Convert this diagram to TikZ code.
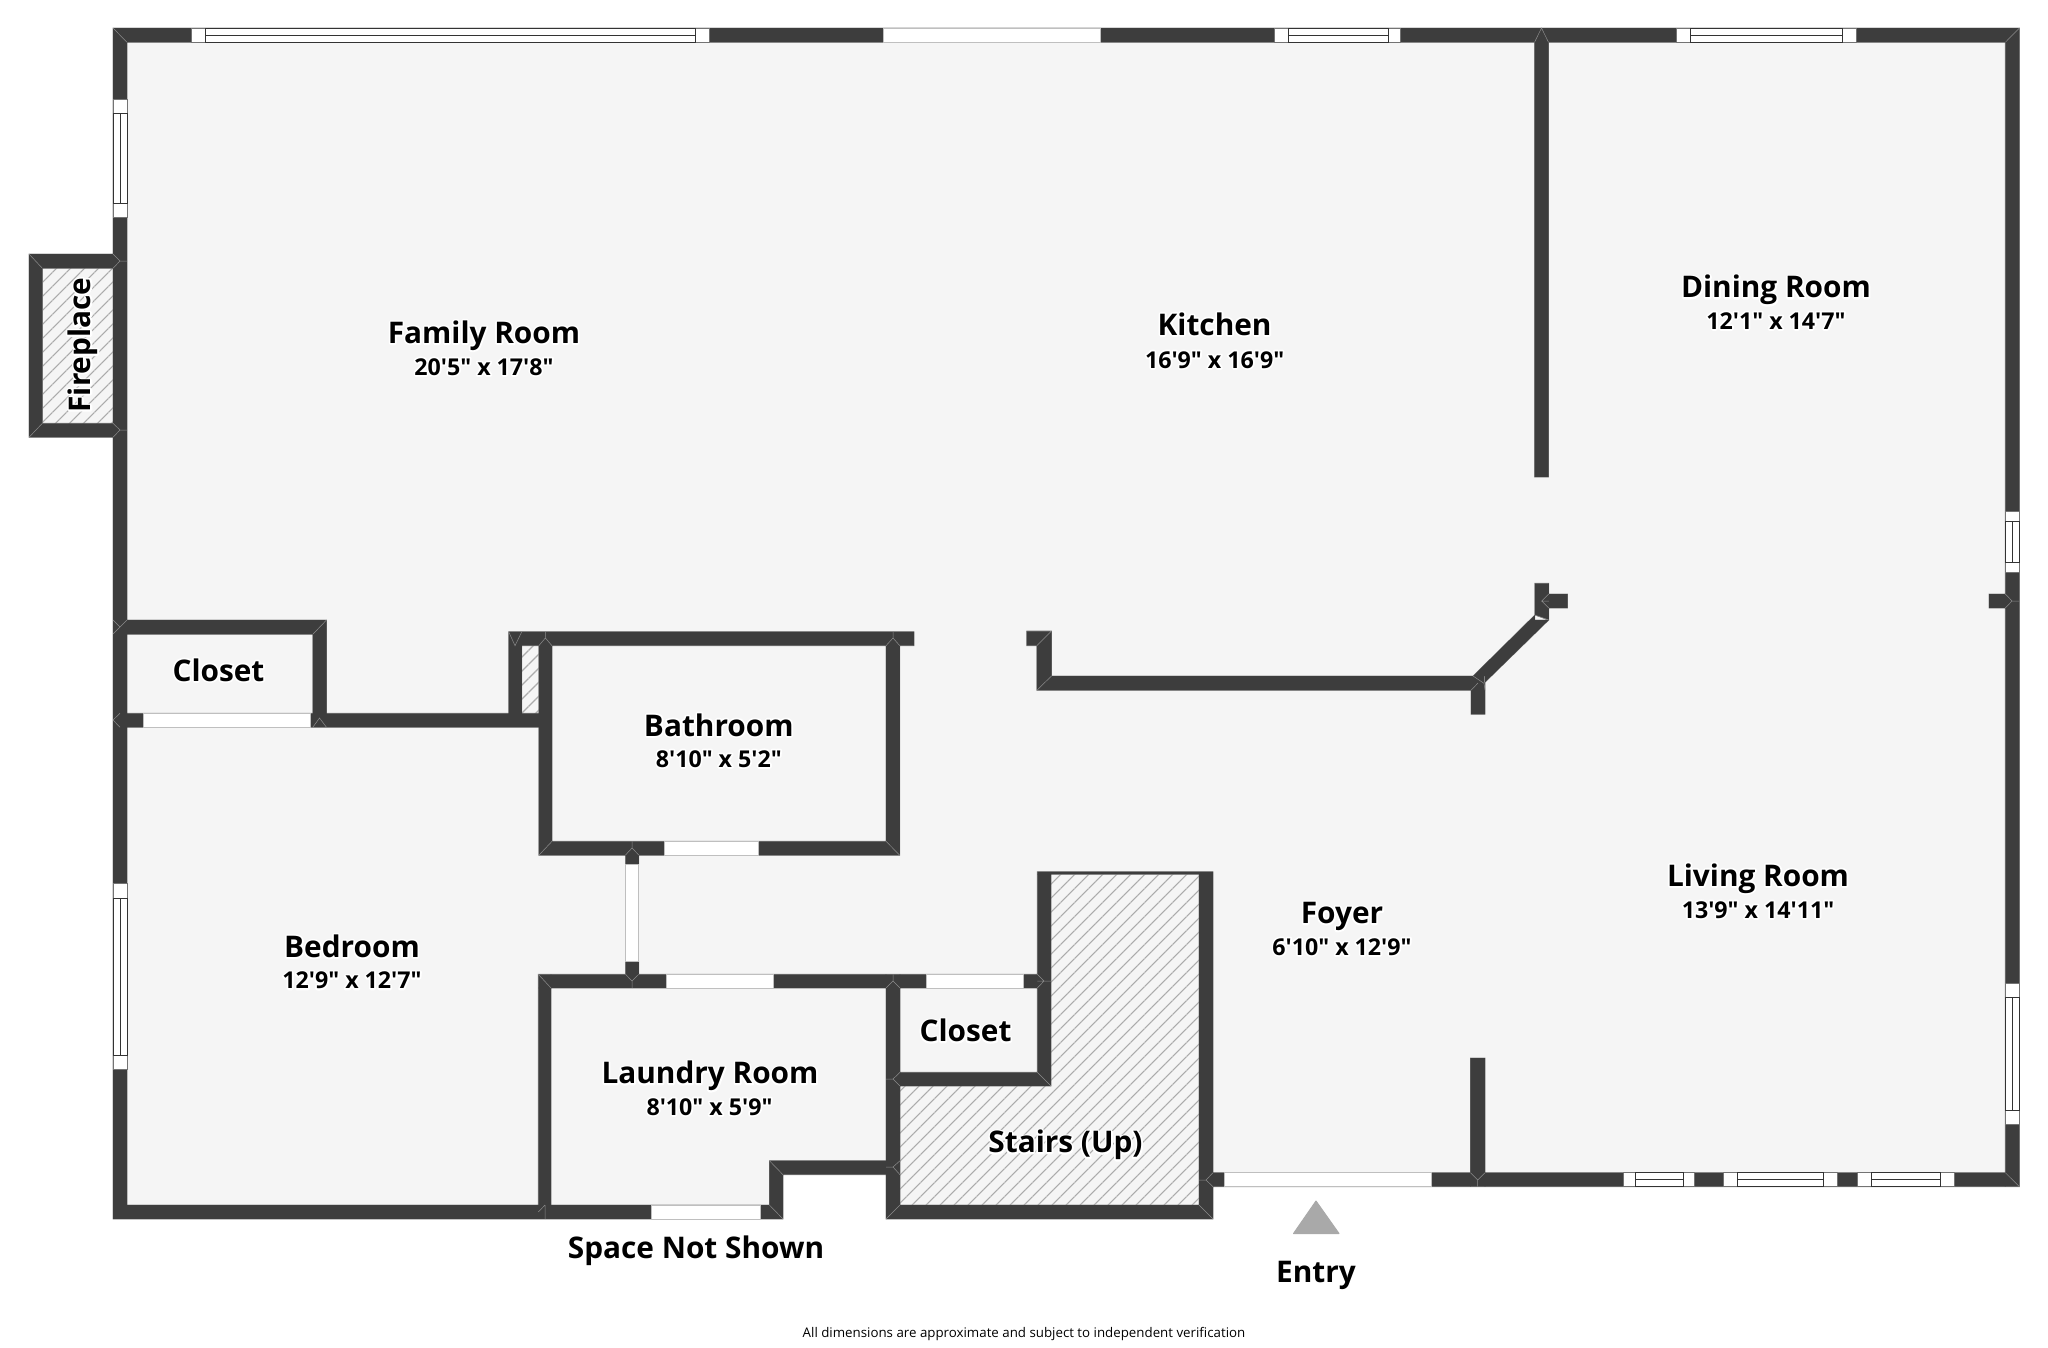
\documentclass[tikz,border=0pt]{standalone}
\usepackage{fontspec}
\defaultfontfeatures[\rmfamily]{}
\setmainfont{Open Sans}
\usepackage{tikz}
\usetikzlibrary{patterns.meta}

\definecolor{wallgrey}{HTML}{3D3D3D}
\definecolor{walledge}{HTML}{8C8C8C}
\definecolor{floorgrey}{HTML}{F5F5F5}
\definecolor{hatchgrey}{HTML}{ABABAB}
\definecolor{entrygrey}{HTML}{A9A9A9}

\newcommand{\halotext}[1]{\leavevmode\rlap{\special{pdf:code q 2 Tr 1 j 3.5 w 1 1 1 RG 1 1 1 rg}#1\special{pdf:code Q}}#1}

\tikzset{
  hatched/.style={fill=floorgrey,postaction={pattern={Lines[angle=45,distance=9.9pt,line width=1.1pt]},pattern color=hatchgrey}},
  mitre/.style={draw=walledge,line width=.5pt},
  opening/.style={draw=black!25,line width=1pt,fill=white},
  frame/.style={draw=black!55,line width=1pt,fill=white},
  pane/.style={draw=black!80,line width=1pt},
  roomname/.style={anchor=base,inner sep=0pt,font=\fontsize{29.8}{33}\selectfont\bfseries},
  roomsize/.style={anchor=base,inner sep=0pt,font=\fontsize{23.2}{26}\selectfont\bfseries},
  note/.style={anchor=base,inner sep=0pt,font=\fontsize{13.3}{16}\selectfont}
}

% x0, pane start, pane end, x1, top of the wall
\newcommand{\hwindow}[5]{
  \draw[frame] (#1,#5) rectangle (#4,#5+14);
  \draw[pane] (#2,#5) rectangle (#3,#5+14);
  \draw[pane] (#2,#5+7) -- (#3,#5+7);
}
% y0, pane start, pane end, y1, left of the wall
\newcommand{\vwindow}[5]{
  \draw[frame] (#5,#1) rectangle (#5+14,#4);
  \draw[pane] (#5,#2) rectangle (#5+14,#3);
  \draw[pane] (#5+7,#2) -- (#5+7,#3);
}

\newcommand{\wallpath}{
  (113,28) rectangle (2019.4,42.3)
  (113,28) rectangle (127,1219)
  (2005.3,28) rectangle (2019.4,1186.7)
  (1212,1172.7) rectangle (2019.4,1186.7)
  (113,1205) rectangle (783,1219)
  % fireplace
  (29,254) rectangle (113,268.3)
  (29,423.3) rectangle (113,437.3)
  (29,254) rectangle (42.4,437.3)
  % closet and bathroom
  (113,620) rectangle (326.5,634.3)
  (312.8,620) rectangle (326.5,727.3)
  (113,713.3) rectangle (552,727.3)
  (508.7,631.7) rectangle (521.8,727.3)
  (538.8,631.7) rectangle (552,855.3)
  (508.7,631.7) rectangle (914,645.7)
  (886,631.7) rectangle (899.8,855.3)
  (538.8,841.3) rectangle (899.8,855.3)
  (625.5,855) rectangle (638.8,864)
  (625.5,961.7) rectangle (638.8,974.3)
  % laundry, closet, stairs
  (538.3,974.3) rectangle (1051,988)
  (538.3,974.3) rectangle (551,1219)
  (886,974.3) rectangle (900,1219)
  (886,1072.3) rectangle (1051,1086)
  (1037.3,871.7) rectangle (1051,1086)
  (1037.3,871.7) rectangle (1213,874.3)
  (1199,871.7) rectangle (1213,1219)
  (886,1205) rectangle (1213,1219)
  (769.4,1160.7) rectangle (900,1174.7)
  (769.4,1160.7) rectangle (783,1219)
  % kitchen side
  (1534.5,28) rectangle (1548.5,477)
  (1534.8,583.3) rectangle (1548.8,620)
  (1534.8,594) rectangle (1567.5,608)
  (1989,594) rectangle (2019.4,608)
  (1036.8,676) rectangle (1484,690.3)
  (1036.8,631) rectangle (1051.5,690.3)
  (1026.7,631) rectangle (1051.5,645.7)
  (1471,676) rectangle (1485,714.3)
  (1534.8,615) -- (1548.8,620) -- (1484,683.3) -- (1473,676) -- cycle
  (1470.4,1058) rectangle (1485,1186.7)
}

\begin{document}
\begin{tikzpicture}[x=1pt,y=-1pt]
\useasboundingbox (0,0) rectangle (2048,1347);

\fill[floorgrey] (113,28) -- (2019,28) -- (2019,1186) -- (1213,1186) -- (1213,1219) -- (886,1219) -- (886,1174) -- (783,1174) -- (783,1219) -- (113,1219) -- cycle;

% hatched areas
\fill[hatched] (42.4,268.3) rectangle (113,423.3);
\fill[hatched] (521.8,645.7) rectangle (538.8,713.3);
\fill[hatched] (1051,874) -- (1199,874) -- (1199,1205) -- (900,1205) -- (900,1086) -- (1051,1086) -- cycle;

% walls
\draw[draw=walledge,line width=.7pt] \wallpath;
\fill[wallgrey] \wallpath;

% joints
\draw[mitre] (113,28) -- (127,42.3) (2019.4,28) -- (2005.3,42.3) (2019.4,1186.7) -- (2005.3,1172.7);
\draw[mitre] (29,254) -- (42.4,268.3) (29,437.3) -- (42.4,423.3);
\draw[mitre] (113,254) -- (120,261) -- (113,268.3) (120,261) -- (127,261);
\draw[mitre] (113,423.3) -- (120,430) -- (113,437.3) (120,430) -- (127,430);
\draw[mitre] (113,620) -- (120,627) -- (127,620) (120,627) -- (113,634) (326.5,620) -- (312.8,634.3);
\draw[mitre] (113,720) -- (120,713.3) (120,727.3) -- (113,720);
\draw[mitre] (312.8,727.3) -- (319.5,718) -- (326.5,727.3) (508.7,631.7) -- (515,645.7) -- (521.8,631.7);
\draw[mitre] (538.8,645.7) -- (545.4,638) -- (552,645.7) (545.4,638) -- (545.4,631.7);
\draw[mitre] (886,645.7) -- (893,638) -- (899.8,645.7) (893,638) -- (893,631.7);
\draw[mitre] (538.8,855.3) -- (552,841.3) (899.8,855.3) -- (886,841.3);
\draw[mitre] (625.5,855) -- (632,848) -- (638.8,855) (632,848) -- (632,841.3);
\draw[mitre] (538.3,974.3) -- (551,988) (625.5,974.3) -- (632,981) -- (638.8,974.3) (632,981) -- (632,988);
\draw[mitre] (886,988) -- (893,981) -- (900,988) (893,981) -- (893,974.3);
\draw[mitre] (1037.3,981) -- (1051,981) (1037.3,974.3) -- (1044,981) -- (1037.3,988);
\draw[mitre] (1051,1086) -- (1037.3,1072.3) (886,1079) -- (893,1079) -- (900,1072.3) (893,1079) -- (900,1086);
\draw[mitre] (769.4,1160.7) -- (783,1174.7) (886,1167) -- (893,1167) -- (900,1160.7) (893,1167) -- (900,1174.7);
\draw[mitre] (538.3,1212) -- (545,1205) (545,1219) -- (545,1205) (783,1219) -- (769.4,1205);
\draw[mitre] (886,1219) -- (900,1205) (1213,1219) -- (1199,1205);
\draw[mitre] (1534.5,42.3) -- (1541.5,28) -- (1548.5,42.3);
\draw[mitre] (1471,690.3) -- (1478,683) (1473,676) -- (1484,683.3) -- (1485,690.3);
\draw[mitre] (1534.8,615) -- (1548.8,620) (1548.8,601) -- (1541.8,601) -- (1548.8,594) (1541.8,601) -- (1548.8,608);
\draw[mitre] (2005.3,594) -- (2012,601) -- (2005.3,608) (2012,601) -- (2019.4,601);
\draw[mitre] (1470.4,1172.7) -- (1477.7,1180) -- (1485,1172.7) (1477.7,1180) -- (1477.7,1186.7);
\draw[mitre] (1199,1180) -- (1206,1180) -- (1213,1172.7) (1206,1180) -- (1213,1186.7);
\draw[mitre] (1026.7,631) -- (1051.5,631) (1036.8,645.7) -- (1051.5,631) (1036.8,690.3) -- (1051.5,676);

% openings
\draw[opening] (883,28.3) rectangle (1100,42.3);
\draw[opening] (143.3,713.3) rectangle (310,727.3);
\draw[opening] (664.5,841.3) rectangle (758,855.3);
\draw[opening] (625.5,864) rectangle (638.8,961.7);
\draw[opening] (666,974.3) rectangle (773.5,988);
\draw[opening] (926.5,974.3) rectangle (1023.5,988);
\draw[opening] (651,1205) rectangle (760,1219);
\draw[opening] (1224.3,1172.7) rectangle (1431.5,1186.7);

% windows
\hwindow{191.5}{205}{695}{709}{28.3}
\hwindow{1274.4}{1288}{1388}{1400.8}{28.3}
\hwindow{1676.8}{1690.5}{1842}{1856.5}{28.3}
\hwindow{1623.5}{1635.4}{1683}{1694.9}{1172.7}
\hwindow{1723.5}{1737.6}{1823.6}{1837.6}{1172.7}
\hwindow{1857}{1871}{1940.4}{1954.5}{1172.7}
\vwindow{99}{113.3}{203.3}{217}{113}
\vwindow{883.3}{898.3}{1055}{1069.3}{113}
\vwindow{511}{521}{562.3}{572.7}{2005.3}
\vwindow{983.3}{997.7}{1110}{1124}{2005.3}

% entry mark
\fill[entrygrey,draw=entrygrey,line width=1pt,line join=round] (1316,1201) -- (1339,1233.5) -- (1293.5,1233.5) -- cycle;

% labels
\node[roomname] (familyname) at (484,343.3) {\halotext{Family Room}};
\node[roomsize] (familysize) at (484,375) {\halotext{20'5" x 17'8"}};
\node[roomname] (kitchenname) at (1214.6,335) {\halotext{Kitchen}};
\node[roomsize] (kitchensize) at (1214.6,368) {\halotext{16'9" x 16'9"}};
\node[roomname] (diningname) at (1776,297.8) {\halotext{Dining Room}};
\node[roomsize] (diningsize) at (1776,329) {\halotext{12'1" x 14'7"}};
\node[roomname] (closetname) at (218.5,681) {\halotext{Closet}};
\node[roomname] (bathname) at (718.8,736) {\halotext{Bathroom}};
\node[roomsize] (bathsize) at (718.8,767) {\halotext{8'10" x 5'2"}};
\node[roomname] (livingname) at (1758,886) {\halotext{Living Room}};
\node[roomsize] (livingsize) at (1758,918) {\halotext{13'9" x 14'11"}};
\node[roomname] (foyername) at (1342,923.5) {\halotext{Foyer}};
\node[roomsize] (foyersize) at (1342,955) {\halotext{6'10" x 12'9"}};
\node[roomname] (bedname) at (352,957.3) {\halotext{Bedroom}};
\node[roomsize] (bedsize) at (352,988.6) {\halotext{12'9" x 12'7"}};
\node[roomname] (laundryname) at (710,1083.7) {\halotext{Laundry Room}};
\node[roomsize] (laundrysize) at (709.5,1115) {\halotext{8'10" x 5'9"}};
\node[roomname] (closettwo) at (965.5,1041.7) {\halotext{Closet}};
\node[roomname] (stairs) at (1065.5,1152.7) {\halotext{Stairs (Up)}};
\node[roomname,rotate=90] (fireplace) at (90.5,345) {\halotext{Fireplace}};
\node[roomname] (notshown) at (696,1258) {Space Not Shown};
\node[roomname] (entry) at (1316,1282) {Entry};
\node[note] (footnote) at (1024,1337) {All dimensions are approximate and subject to independent verification};
\end{tikzpicture}
\end{document}
